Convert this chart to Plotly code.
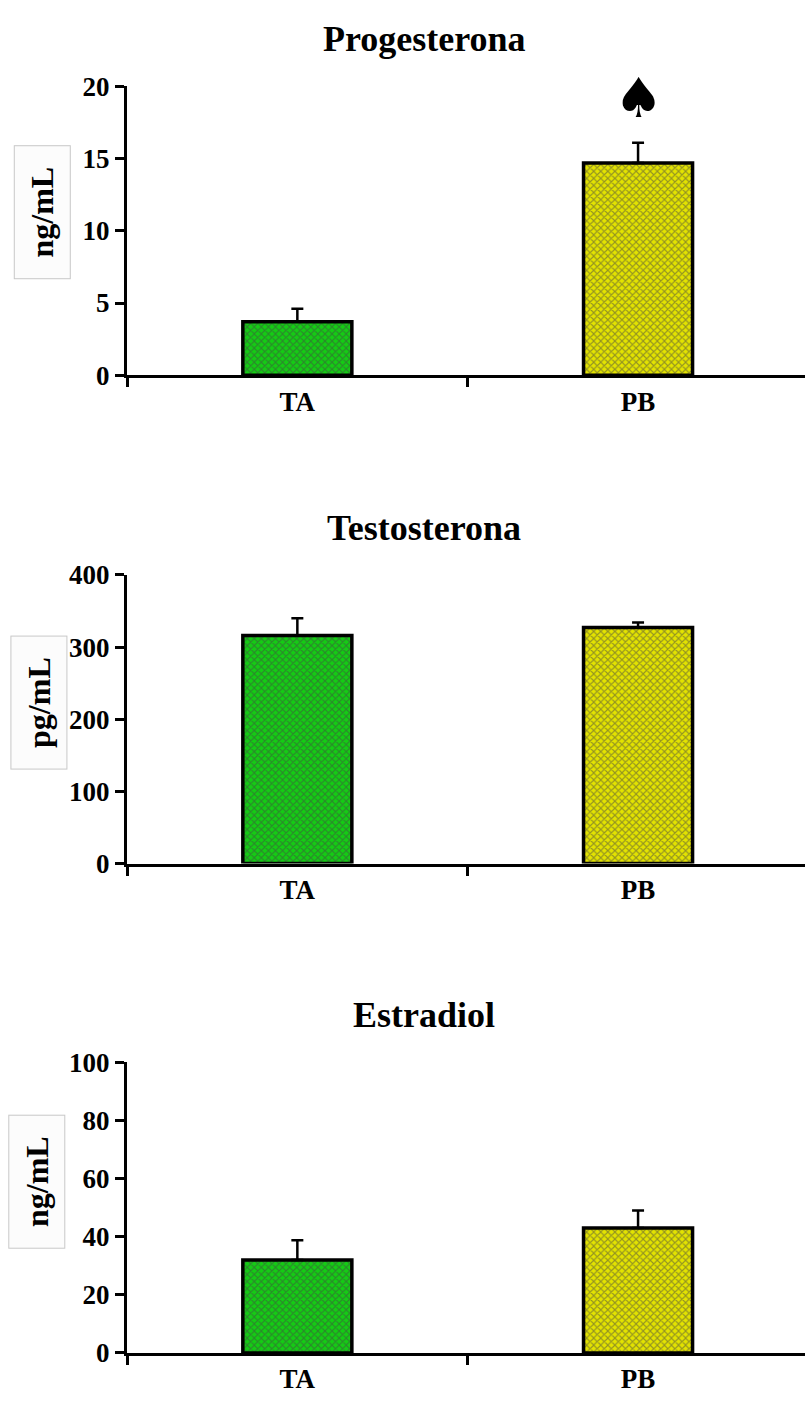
import plotly.graph_objects as go

# ---- data ----
categories = ["TA", "PB"]
prog_values = [3.7, 14.7]
prog_err = [0.9, 1.4]
testo_values = [316, 327]
testo_err = [24, 7]
estr_values = [32, 43]
estr_err = [6.8, 6.0]

panel_titles = ["Progesterona", "Testosterona", "Estradiol"]
unit_labels = ["ng/mL", "pg/mL", "ng/mL"]
y_ranges = [[0, 20], [0, 400], [0, 100]]
y_dticks = [5, 100, 20]
marker_label = "♠"
marker_value = 19.2

FONT = "Liberation Serif, Times New Roman, serif"
bar_colors = ["#14cc14", "#e3e300"]
pattern_fg = ["#053305", "#333300"]

W, H = 805, 1414
# pixel layout (top, bottom of each plot area)
panel_px = [(73, 368), (572, 867), (1070, 1367)]
title_py = [25, 524, 1022]
box_px = [(42.5, 202), (38.5, 703), (36.5, 1192.5)]

fig = go.Figure()
series = [(prog_values, prog_err), (testo_values, testo_err), (estr_values, estr_err)]

for i, (vals, errs) in enumerate(series):
    xa = "x" if i == 0 else f"x{i+1}"
    ya = "y" if i == 0 else f"y{i+1}"
    fig.add_trace(go.Bar(
        x=categories, y=vals, xaxis=xa, yaxis=ya, width=0.32,
        marker=dict(
            color=bar_colors,
            line=dict(color="black", width=3.5),
            pattern=dict(shape="x", fgcolor=pattern_fg, bgcolor=bar_colors,
                         size=5, solidity=0.4, fillmode="overlay"),
        ),
        error_y=dict(type="data", array=errs, arrayminus=[0, 0], symmetric=False,
                     color="black", thickness=2.5, width=6),
        showlegend=False,
    ))
    top, bot = panel_px[i]
    dom = [1 - bot / H, 1 - top / H]
    fig.layout[f"yaxis{'' if i == 0 else i+1}"] = dict(
        domain=dom, range=y_ranges[i], dtick=y_dticks[i], anchor=xa,
        showline=True, linewidth=3, linecolor="black", showgrid=False, zeroline=False,
        ticks="outside", ticklen=9, tickwidth=2.5, tickcolor="black",
        tickfont=dict(family=FONT, size=27, color="black", weight="bold"),
    )
    fig.layout[f"xaxis{'' if i == 0 else i+1}"] = dict(
        domain=[127 / W, 1.0], range=[-0.5, 1.49], anchor=ya,
        showline=True, linewidth=3, linecolor="black", showgrid=False, zeroline=False,
        ticks="outside", tickson="boundaries", ticklen=9, tickwidth=2.5, tickcolor="black",
        tickfont=dict(family=FONT, size=27, color="black", weight="bold"),
    )
    # title
    fig.add_annotation(
        text=panel_titles[i], xref="paper", yref="paper", x=424 / W, y=1 - title_py[i] / H,
        showarrow=False, xanchor="center", yanchor="middle",
        font=dict(family=FONT, size=36, color="black", weight="bold"),
    )
    # y label box
    bx, by = box_px[i]
    fig.add_annotation(
        text=unit_labels[i], xref="paper", yref="paper", x=bx / W, y=1 - by / H,
        showarrow=False, xanchor="center", yanchor="middle", textangle=-90,
        width=132, height=55, borderpad=0, bordercolor="#c8c8c8", borderwidth=1,
        bgcolor="#fcfcfc",
        font=dict(family=FONT, size=32, color="black", weight="bold"),
    )

fig.add_annotation(
    text=marker_label, x="PB", y=marker_value, xref="x", yref="y",
    showarrow=False, xanchor="center", yanchor="middle",
    font=dict(family="DejaVu Sans", size=55, color="black"),
)

fig.update_layout(
    width=W, height=H, margin=dict(l=0, r=0, t=0, b=0),
    paper_bgcolor="white", plot_bgcolor="white", bargap=0.68,
)

fig.write_html("out.html")
